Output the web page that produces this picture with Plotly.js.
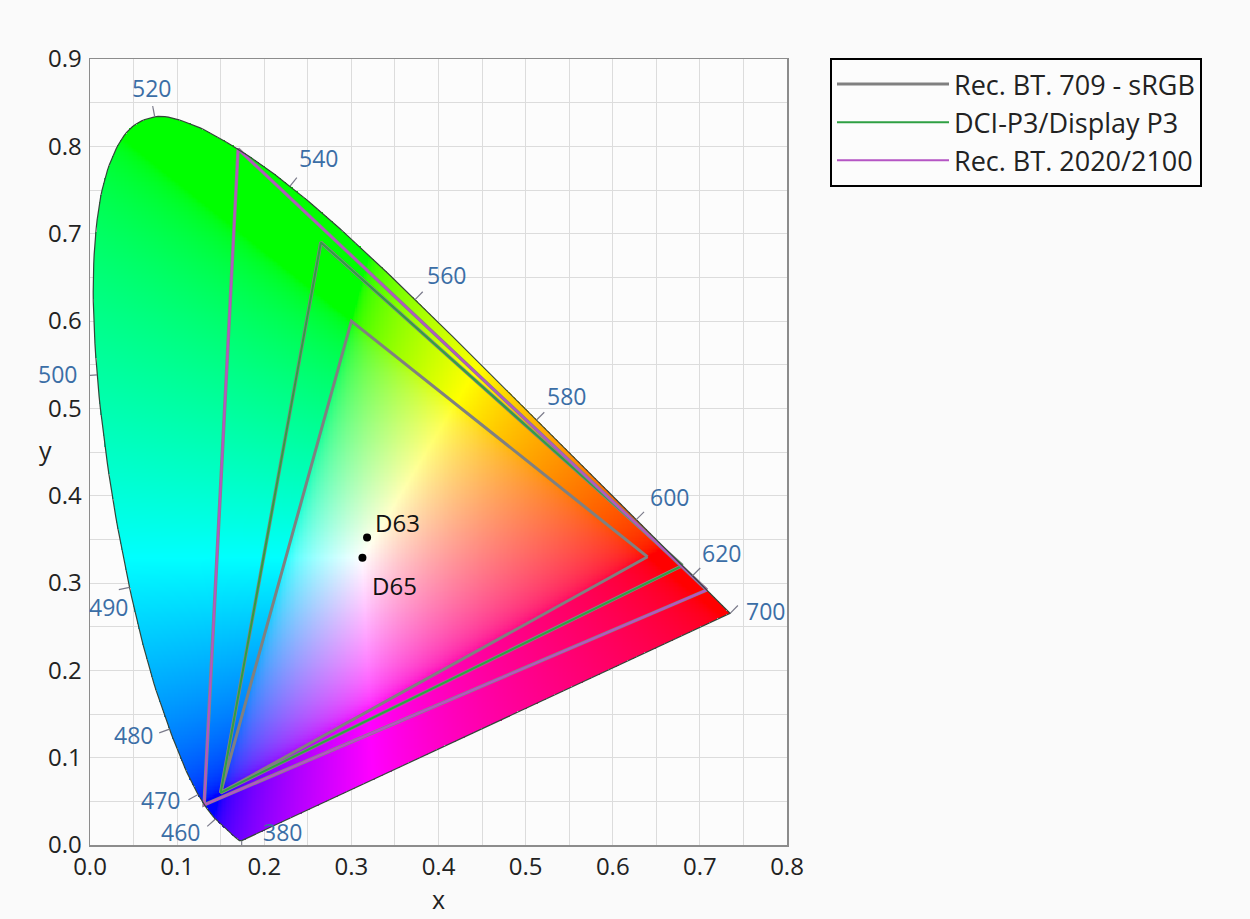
<!DOCTYPE html>
<html><head><meta charset="utf-8">
<script src="https://cdn.plot.ly/plotly-3.0.1.min.js"></script>
<style>html,body{margin:0;padding:0;background:#fafafa}</style>
</head><body><div id="chart" style="width:1250px;height:919px"></div>
<script>
// CIE 1931 2° spectral locus
const wavelengths = [380,385,390,395,400,405,410,415,420,425,430,435,440,445,450,455,460,465,470,475,480,485,490,495,500,505,510,515,520,525,530,535,540,545,550,555,560,565,570,575,580,585,590,595,600,605,610,615,620,625,630,635,640,645,650,655,660,665,670,680,700];
const locusX = [0.1741,0.1740,0.1738,0.1736,0.1733,0.1730,0.1726,0.1721,0.1714,0.1703,0.1689,0.1669,0.1644,0.1611,0.1566,0.1510,0.1440,0.1355,0.1241,0.1096,0.0913,0.0687,0.0454,0.0235,0.0082,0.0039,0.0139,0.0389,0.0743,0.1142,0.1547,0.1929,0.2296,0.2658,0.3016,0.3373,0.3731,0.4087,0.4441,0.4788,0.5125,0.5448,0.5752,0.6029,0.6270,0.6482,0.6658,0.6801,0.6915,0.7006,0.7079,0.7140,0.7190,0.7230,0.7260,0.7283,0.7300,0.7311,0.7320,0.7334,0.7347];
const locusY = [0.0050,0.0050,0.0049,0.0049,0.0048,0.0048,0.0048,0.0048,0.0051,0.0058,0.0069,0.0086,0.0109,0.0138,0.0177,0.0227,0.0297,0.0399,0.0578,0.0868,0.1327,0.2007,0.2950,0.4127,0.5384,0.6548,0.7502,0.8120,0.8338,0.8262,0.8059,0.7816,0.7543,0.7243,0.6923,0.6589,0.6245,0.5896,0.5547,0.5202,0.4866,0.4544,0.4242,0.3965,0.3725,0.3514,0.3340,0.3197,0.3083,0.2993,0.2920,0.2859,0.2809,0.2770,0.2740,0.2717,0.2700,0.2689,0.2680,0.2666,0.2653];

const labelWavelengths = [380,460,470,480,490,500,520,540,560,580,600,620,700];

// gamut primaries R, G, B
const rec709X = [0.64, 0.30, 0.15];
const rec709Y = [0.33, 0.60, 0.06];
const p3X = [0.68, 0.265, 0.15];
const p3Y = [0.32, 0.69, 0.06];
const rec2020X = [0.708, 0.170, 0.131];
const rec2020Y = [0.292, 0.797, 0.046];

const whiteNames = ['D63', 'D65'];
const whiteX = [0.318, 0.3127];
const whiteY = [0.352, 0.3290];

// ---- styling (pixel offsets for labels) ----
const labelShift = {380:[41,9],460:[-35,-13],470:[-38,-5],480:[-36,-6],490:[-21,-20],500:[-40,1],520:[-3,29],540:[28,28],560:[31,25],580:[30,24],600:[33,23],620:[29,23],700:[35,2]};
const whiteShift = {D63:[30,15], D65:[32,-28]};
const FONT = 'Open Sans, sans-serif';

const M = {l:90, r:463, t:59, b:74};
const W = 1250, H = 919;
const XR = [0, 0.8], YR = [0, 0.9];
const pxPerX = (W - M.l - M.r) / (XR[1]-XR[0]);
const pxPerY = (H - M.t - M.b) / (YR[1]-YR[0]);

// ---- smooth drawing path of the locus (Catmull-Rom through the data points) ----
function smoothPath(xs, ys, sub) {
  const ox = [], oy = [], n = xs.length;
  for (let i = 0; i < n - 1; i++) {
    const i0 = Math.max(0, i-1), i3 = Math.min(n-1, i+2);
    for (let s = 0; s < sub; s++) {
      const t = s / sub, t2 = t*t, t3 = t2*t;
      const f = (p0,p1,p2,p3) => 0.5*((2*p1) + (-p0+p2)*t + (2*p0-5*p1+4*p2-p3)*t2 + (-p0+3*p1-3*p2+p3)*t3);
      ox.push(f(xs[i0],xs[i],xs[i+1],xs[i3]));
      oy.push(f(ys[i0],ys[i],ys[i+1],ys[i3]));
    }
  }
  ox.push(xs[n-1]); oy.push(ys[n-1]);
  return [ox, oy];
}
const [smX, smY] = smoothPath(locusX, locusY, 10);
const polyX = smX.concat([smX[0]]), polyY = smY.concat([smY[0]]);

// ---- colour fill of the locus (image trace) ----
const step = 0.0015;
const nx = Math.round((XR[1]-XR[0]) / step), ny = Math.round((YR[1]-YR[0]) / step);
function xyToRgb(x, y) {
  const X = x / y, Y = 1, Z = (1 - x - y) / y;
  let r = 3.2406*X - 1.5372*Y - 0.4986*Z;
  let g = -0.9689*X + 1.8758*Y + 0.0415*Z;
  let b = 0.0557*X - 0.2040*Y + 1.0570*Z;
  r = Math.max(r, 0); g = Math.max(g, 0); b = Math.max(b, 0);
  const m = Math.max(r, g, b) || 1;
  const enc = v => { v = v / m; v = v <= 0.0031308 ? 12.92*v : 1.055*Math.pow(v, 1/2.4) - 0.055; return Math.round(255*Math.min(1, Math.max(0, v))); };
  return [enc(r), enc(g), enc(b), 1];
}
const z = [];
for (let j = 0; j < ny; j++) {
  const yc = (j + 0.5) * step;
  const xs = [];
  for (let k = 0; k < polyX.length - 1; k++) {
    const ya = polyY[k], yb = polyY[k+1];
    if ((ya <= yc && yb > yc) || (yb <= yc && ya > yc)) {
      xs.push(polyX[k] + (yc - ya) * (polyX[k+1] - polyX[k]) / (yb - ya));
    }
  }
  xs.sort((a, b) => a - b);
  const row = new Array(nx);
  for (let i = 0; i < nx; i++) {
    const xc = (i + 0.5) * step;
    let inside = false;
    for (let p = 0; p + 1 < xs.length; p += 2) if (xc >= xs[p] && xc <= xs[p+1]) { inside = true; break; }
    row[i] = inside ? xyToRgb(xc, yc) : [255,255,255,0];
  }
  z.push(row);
}

const traces = [];
traces.push({type:'image', z:z, colormodel:'rgba', x0:step/2, dx:step, y0:step/2, dy:step, zsmooth:'fast', hoverinfo:'skip', showlegend:false});

function closed(a) { return a.concat([a[0]]); }
const gamuts = [
  {name:'Rec. BT. 709 - sRGB', x:rec709X, y:rec709Y, color:'#808080', under:false},
  {name:'DCI-P3/Display P3', x:p3X, y:p3Y, color:'#2fa043', under:true},
  {name:'Rec. BT. 2020/2100', x:rec2020X, y:rec2020Y, color:'#b555c4', under:true}
];
gamuts.forEach(g => {
  if (g.under) traces.push({type:'scatter', mode:'lines', x:closed(g.x), y:closed(g.y), line:{color:'#858585', width:3.5}, hoverinfo:'skip', showlegend:false});
  traces.push({type:'scatter', mode:'lines', name:g.name, x:closed(g.x), y:closed(g.y), line:{color:g.color, width:g.under ? 2 : 3}});
});

// locus outline
traces.push({type:'scatter', mode:'lines', x:polyX, y:polyY, line:{color:'#34463a', width:1.2}, hoverinfo:'skip', showlegend:false});

// wavelength tick marks (outward normal, computed in pixel space)
const tickLen = 11;
const tx = [], ty = [];
const annotations = [];
labelWavelengths.forEach(w => {
  const i = wavelengths.indexOf(w);
  const a = Math.max(0, i - 1), b = Math.min(wavelengths.length - 1, i + 1);
  const dxp = (locusX[b] - locusX[a]) * pxPerX, dyp = (locusY[b] - locusY[a]) * pxPerY;
  const len = Math.hypot(dxp, dyp) || 1;
  const nxp = -dyp / len, nyp = dxp / len;
  tx.push(locusX[i], locusX[i] + nxp * tickLen / pxPerX, null);
  ty.push(locusY[i], locusY[i] + nyp * tickLen / pxPerY, null);
  const s = labelShift[w];
  annotations.push({x:locusX[i], y:locusY[i], xref:'x', yref:'y', text:String(w), showarrow:false,
    xshift:s[0], yshift:s[1], font:{family:FONT, size:23, color:'#3b6ea6'}});
});
traces.push({type:'scatter', mode:'lines', x:tx, y:ty, line:{color:'#7a7a8a', width:1.2}, hoverinfo:'skip', showlegend:false});

// white points
traces.push({type:'scatter', mode:'markers', x:whiteX, y:whiteY, text:whiteNames, marker:{color:'#000', size:8}, showlegend:false, hoverinfo:'text'});
whiteNames.forEach((n, i) => {
  annotations.push({x:whiteX[i], y:whiteY[i], xref:'x', yref:'y', text:n, showarrow:false,
    xshift:whiteShift[n][0], yshift:whiteShift[n][1], font:{family:FONT, size:24, color:'#111'}});
});

// y axis label (horizontal)
annotations.push({xref:'paper', yref:'paper', x:(37 - M.l) / (W - M.l - M.r), y:(H - M.b - 450) / (H - M.t - M.b),
  text:'y', showarrow:false, font:{family:FONT, size:25, color:'#222'}});

const axisCommon = {
  dtick:0.1, tick0:0, tickformat:'.1f', showgrid:true, gridcolor:'#dcdcdc', gridwidth:1,
  minor:{dtick:0.05, showgrid:true, gridcolor:'#dcdcdc', gridwidth:1},
  showline:true, mirror:true, linecolor:'#8c8c8c', linewidth:1.5, zeroline:false, ticks:'',
  tickfont:{family:FONT, size:24, color:'#222'}, fixedrange:true
};

const layout = {
  width:W, height:H, margin:M,
  paper_bgcolor:'#fafafa', plot_bgcolor:'#fcfcfc',
  xaxis:Object.assign({}, axisCommon, {range:XR, autorange:false, constrain:'range',
    title:{text:'x', font:{family:FONT, size:25, color:'#222'}, standoff:8}}),
  yaxis:Object.assign({}, axisCommon, {range:YR, autorange:false, scaleanchor:false, constrain:'range', ticklabelstandoff:2}),
  showlegend:true,
  legend:{x:(830 - M.l) / (W - M.l - M.r), xanchor:'left', y:(H - M.b - 58) / (H - M.t - M.b), yanchor:'top',
    bordercolor:'#000', borderwidth:2, bgcolor:'#fcfcfc', itemwidth:112,
    font:{family:FONT, size:27, color:'#222'}},
  annotations:annotations
};

Plotly.newPlot('chart', traces, layout, {displayModeBar:false, staticPlot:true});
</script></body></html>
